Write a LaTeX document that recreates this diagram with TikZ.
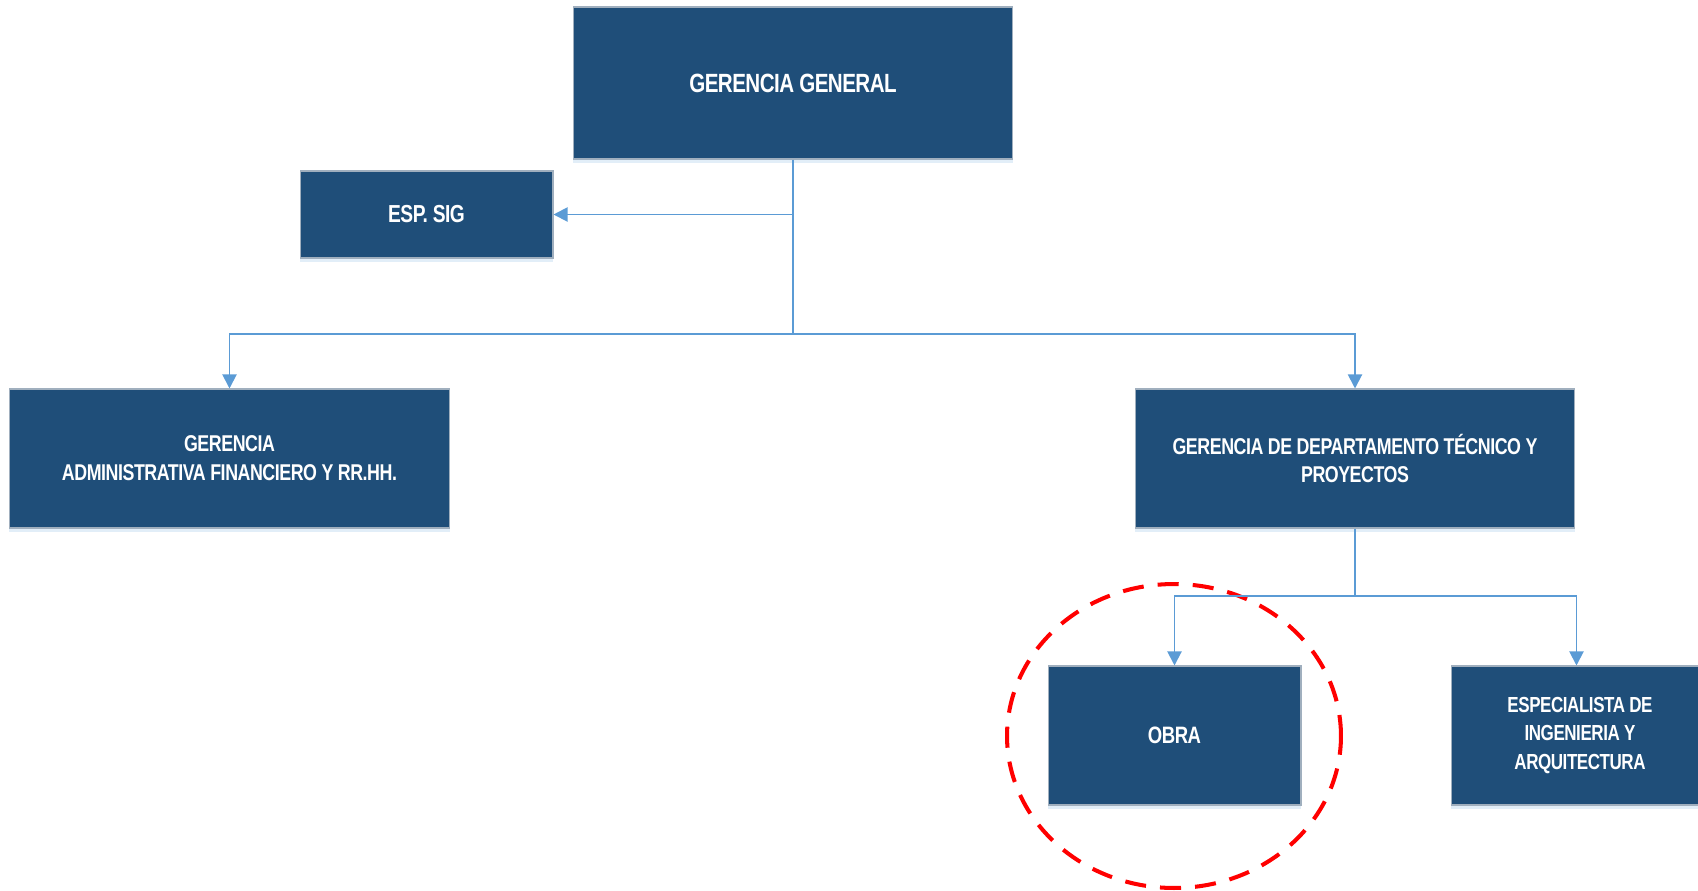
\documentclass[tikz,border=0pt]{standalone}
\usepackage{fontspec}
\setmainfont{Liberation Sans}[FakeStretch=0.78,LetterSpace=-2]
\usetikzlibrary{arrows.meta,shapes.geometric,shadows}
\definecolor{orgblue}{RGB}{31,78,121}
\definecolor{orgedge}{RGB}{160,175,190}
\definecolor{linkblue}{RGB}{91,155,213}
\definecolor{markred}{RGB}{255,0,0}

\tikzset{
  orgbox/.style={draw=orgedge, line width=0.6pt, fill=orgblue, text=white,
    font=\bfseries, align=center, inner sep=0pt,
    drop shadow={fill=linkblue!50, opacity=0.35, shadow xshift=0pt, shadow yshift=-2pt}},
  link/.style={draw=linkblue, line width=1.1pt},
  linkarrow/.style={link, -{Triangle[width=8pt,length=8pt]}},
  redring/.style={draw=markred, line width=2.3pt, dash pattern=on 12pt off 8pt, ellipse}
}

\begin{document}
\begin{tikzpicture}[x=0.02cm, y=-0.02cm]
\useasboundingbox (0,0) rectangle (1698,890);

% Organisation boxes
\node[orgbox, minimum width=8.8cm, minimum height=3.04cm, font=\bfseries\fontsize{15}{18}\selectfont] (general) at (793,83) {GERENCIA GENERAL};
\node[orgbox, minimum width=5.06cm, minimum height=1.74cm, font=\bfseries\fontsize{14}{17}\selectfont] (espsig) at (426.5,214.5) {ESP. SIG};
\node[orgbox, minimum width=8.82cm, minimum height=2.78cm, font=\bfseries\fontsize{13}{16.4}\selectfont] (admin) at (229.5,458.5) {GERENCIA\\ADMINISTRATIVA FINANCIERO Y RR.HH.};
\node[orgbox, minimum width=8.8cm, minimum height=2.78cm, font=\bfseries\fontsize{13}{16.4}\selectfont] (tecnico) at (1355,458.5) {GERENCIA DE DEPARTAMENTO TÉCNICO Y\\PROYECTOS};
\node[orgbox, minimum width=5.06cm, minimum height=2.78cm, font=\bfseries\fontsize{13.5}{16}\selectfont] (obra) at (1174.5,735.5) {OBRA};
\node[orgbox, minimum width=5.16cm, minimum height=2.78cm, font=\bfseries\fontsize{12.4}{16.2}\selectfont] (especialista) at (1580,735.5) {ESPECIALISTA DE\\INGENIERIA Y\\ARQUITECTURA};

% Highlight round OBRA
\node[redring, minimum width=6.68cm, minimum height=6.08cm] (marca) at (1174,736) {};

% Connections
\coordinate (bustop) at (793,334);
\coordinate (busbottom) at (1355,596);
\draw[link] (general.south) -- (bustop);
\draw[linkarrow] (general.south |- espsig.east) -- (espsig.east);
\draw[linkarrow] (bustop) -| (admin.north);
\draw[linkarrow] (bustop) -| (tecnico.north);
\draw[link] (tecnico.south) -- (busbottom);
\draw[linkarrow] (busbottom) -| (obra.north);
\draw[linkarrow] (busbottom) -| ([xshift=-2pt]especialista.north);
\end{tikzpicture}
\end{document}
